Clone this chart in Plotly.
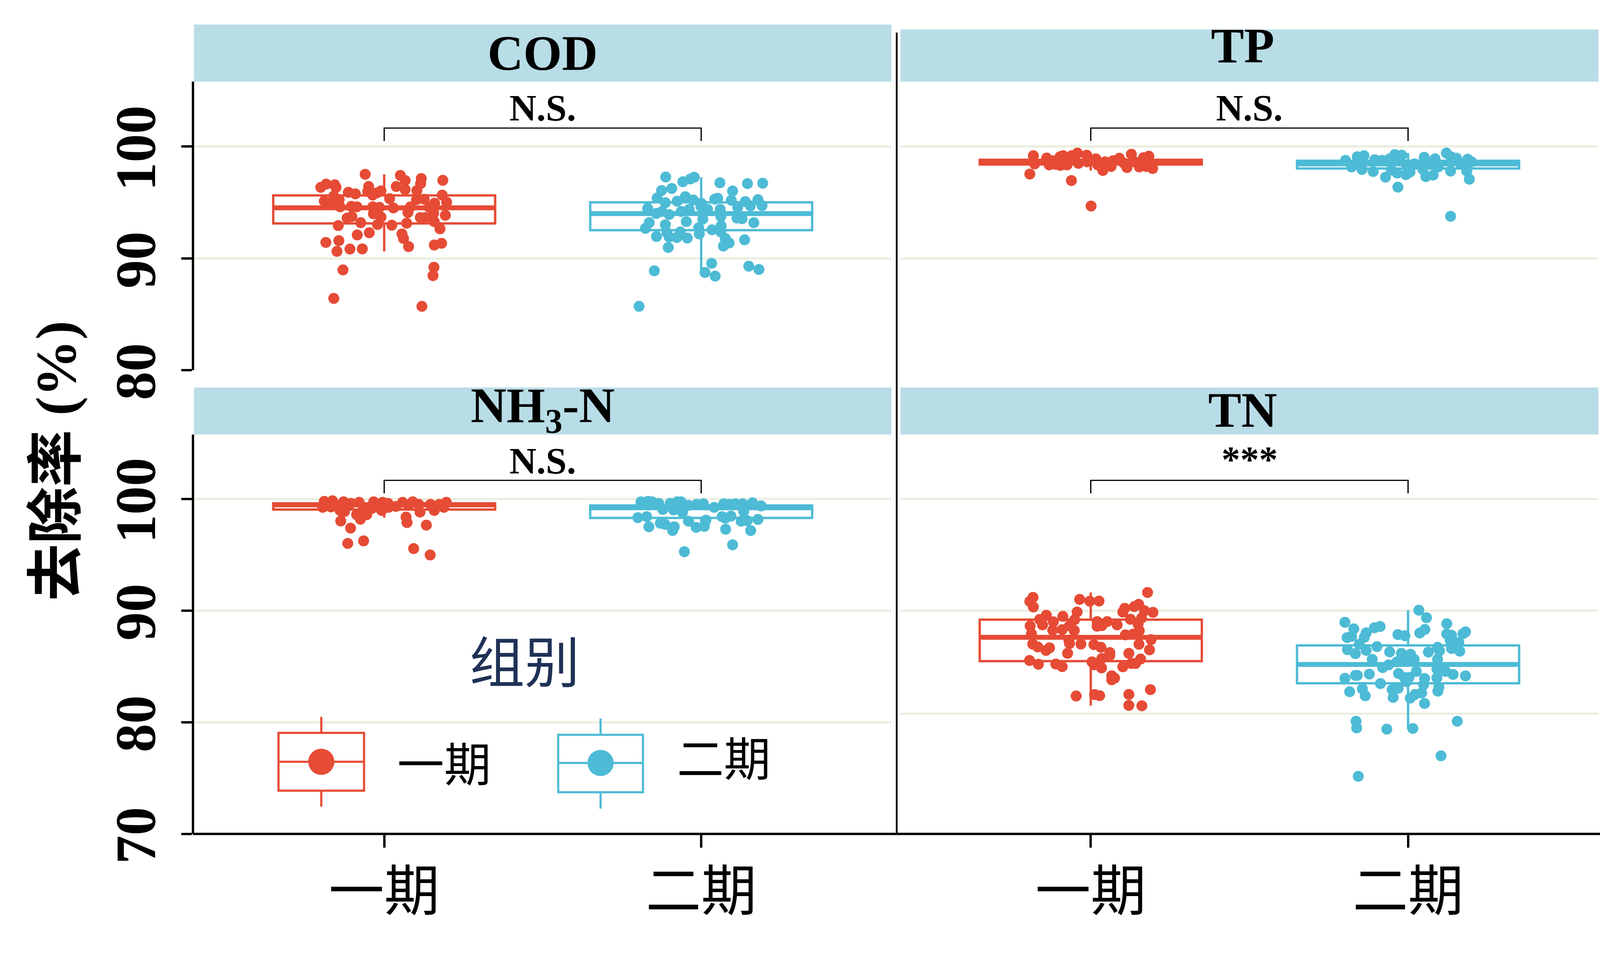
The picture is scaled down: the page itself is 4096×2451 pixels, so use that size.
import plotly.graph_objects as go

W, H = 4096, 2451
RED = "#E64B35"
BLUE = "#4DBBD5"
STRIP = "#B8DDE7"
GRID = "#ECEFE1"
SERIF = "Liberation Serif, Noto Sans CJK SC"
NAVY = "#1F3156"

groups = ["一期", "二期"]
panel_names = ["COD", "TP", "NH<sub>3</sub>-N", "TN"]
sig_labels = ["N.S.", "N.S.", "N.S.", "***"]

# box statistics per panel: [一期, 二期]
cod_q1 = [93.12, 92.52]; cod_med = [94.52, 94.00]; cod_q3 = [95.63, 95.01]; cod_lo = [90.62, 88.88]; cod_hi = [97.51, 97.25]
tp_q1 = [98.40, 98.04]; tp_med = [98.61, 98.45]; tp_q3 = [98.82, 98.73]; tp_lo = [97.86, 97.08]; tp_hi = [99.42, 99.42]
nh_q1 = [99.05, 98.29]; nh_med = [99.47, 99.20]; nh_q3 = [99.60, 99.41]; nh_lo = [98.32, 97.16]; nh_hi = [99.83, 99.78]
tn_q1 = [85.47, 83.49]; tn_med = [87.60, 85.17]; tn_q3 = [89.19, 86.88]; tn_lo = [81.49, 79.38]; tn_hi = [91.62, 90.03]

# observations (removal %) and horizontal jitter offsets
cod1_y = [97.52,97.42,97.14,96.98,96.64,96.35,96.58,96.35,96.43,96.97,
          96.43,96.69,96.16,96.06,95.91,95.77,95.98,95.66,96.03,95.86,
          95.57,95.66,95.13,95.25,95.34,95.25,95.29,94.93,95.02,94.84,
          94.61,94.65,94.61,94.61,94.56,94.51,94.61,94.56,94.10,93.98,
          93.69,93.60,93.74,93.65,93.65,94.01,93.85,92.93,93.19,93.02,
          92.96,93.14,93.28,92.64,92.09,92.29,92.18,91.77,91.42,91.58,
          90.62,90.83,90.84,91.05,91.19,91.34,88.96,89.20,88.45,86.41,85.70]
cod1_dx = [-0.060,0.051,0.117,0.185,-0.183,-0.200,-0.156,-0.152,-0.049,0.066,
           0.038,0.115,0.066,0.103,-0.113,-0.091,-0.052,-0.036,-0.010,-0.023,
           -0.159,0.183,-0.189,-0.142,0.017,0.102,0.126,0.159,0.197,-0.168,
           -0.139,-0.104,-0.086,-0.036,-0.015,0.029,0.083,0.142,0.075,-0.034,
           -0.010,-0.117,-0.102,0.114,0.129,0.156,0.193,-0.145,-0.074,-0.021,
           0.024,0.071,0.158,0.176,-0.085,-0.047,0.056,0.061,-0.184,-0.143,
           -0.149,-0.108,-0.069,0.077,0.158,0.181,-0.130,0.157,0.154,-0.159,0.119]
cod2_y = [97.28,96.85,97.10,97.26,96.76,96.69,96.72,96.07,96.25,96.03,
          95.40,94.97,95.11,95.52,95.22,94.93,95.29,95.38,95.20,95.08,
          95.25,94.47,94.01,94.19,93.92,94.19,94.38,94.65,94.38,94.38,
          94.56,94.70,94.72,93.60,93.55,93.19,93.74,93.51,93.28,93.19,
          92.68,93.00,92.91,92.55,92.73,92.36,92.27,91.95,91.91,91.86,
          91.81,92.18,92.36,91.77,91.37,91.10,91.65,90.97,89.55,88.88,
          88.73,88.40,89.29,89.00,85.70]
cod2_dx = [-0.112,-0.058,-0.034,-0.022,0.059,0.146,0.194,-0.125,-0.093,0.099,
           -0.139,-0.113,-0.076,-0.050,-0.025,0.000,0.043,0.052,0.095,0.139,
           0.179,-0.169,-0.142,-0.124,-0.101,-0.063,-0.038,-0.001,0.020,0.060,
           0.115,0.155,0.192,0.113,0.129,0.166,0.062,0.005,-0.047,-0.164,
           -0.176,-0.113,0.063,0.034,-0.008,-0.066,-0.108,-0.141,-0.101,-0.077,
           -0.044,-0.006,0.062,0.076,0.088,0.070,0.137,-0.104,0.033,-0.148,
           0.012,0.044,0.150,0.182,-0.196]
tp1_y = [99.19,98.45,97.54,98.98,98.36,98.41,99.09,99.19,98.32,98.36,
         99.19,99.42,98.50,99.23,98.64,98.91,98.36,97.86,98.64,98.22,
         98.96,98.13,99.32,98.18,99.00,99.14,98.22,98.04,96.96,94.68,
         98.73,98.73,98.73,98.64,98.55]
tp1_dx = [-0.181,-0.177,-0.192,-0.139,-0.131,-0.110,-0.097,-0.087,-0.096,-0.075,
          -0.060,-0.042,-0.039,-0.013,-0.012,0.016,0.022,0.038,0.045,0.064,
          0.090,0.114,0.128,0.153,0.166,0.183,0.175,0.195,-0.061,0.001,
          -0.120,-0.071,0.070,0.138,0.103]
tp2_y = [98.77,98.18,99.09,99.19,97.95,98.82,97.77,98.77,97.26,98.91,
         99.28,99.23,97.63,98.36,97.49,97.72,99.05,97.95,97.31,98.91,
         97.45,98.18,99.42,99.09,98.96,97.81,98.87,98.64,97.81,97.08,
         96.37,93.76,97.90,98.45,98.45,98.45]
tp2_dx = [-0.197,-0.178,-0.160,-0.139,-0.145,-0.105,-0.110,-0.082,-0.071,-0.058,
          -0.042,-0.020,-0.034,-0.005,-0.007,0.006,0.051,0.047,0.056,0.085,
          0.079,0.095,0.121,0.135,0.153,0.134,0.188,0.200,0.185,0.193,
          -0.032,0.134,-0.053,0.021,0.069,0.166]
nh1_y = [99.78,99.24,99.83,99.28,99.42,99.74,98.96,98.87,99.60,99.69,
         98.59,98.18,98.59,99.24,99.74,99.14,99.69,98.96,99.60,99.24,
         99.33,99.69,99.74,99.42,99.51,98.82,99.51,98.96,99.24,99.69,
         98.37,97.88,98.02,97.38,97.65,96.01,96.24,95.55,94.98,99.33,99.51]
nh1_dx = [-0.189,-0.194,-0.163,-0.168,-0.146,-0.128,-0.139,-0.125,-0.105,-0.079,
          -0.087,-0.075,-0.055,-0.065,-0.033,-0.039,-0.005,-0.008,0.012,0.014,
          0.037,0.058,0.090,0.077,0.109,0.113,0.146,0.158,0.188,0.196,
          0.069,0.072,-0.137,-0.106,0.133,-0.115,-0.065,0.093,0.145,-0.020,0.174]
nh2_y = [99.74,98.32,99.78,99.74,99.60,98.41,97.50,97.82,97.72,99.60,
         99.74,99.74,99.01,98.78,97.17,97.50,99.42,99.51,99.56,98.00,
         97.45,97.54,98.09,95.27,99.56,99.51,99.56,99.56,99.65,99.37,
         98.87,98.41,98.27,98.46,98.00,98.05,98.16,97.28,97.16,95.89,99.24,99.05]
nh2_dx = [-0.190,-0.200,-0.168,-0.155,-0.134,-0.172,-0.165,-0.129,-0.114,-0.098,
          -0.076,-0.064,-0.087,-0.059,-0.090,-0.085,-0.040,-0.014,0.007,-0.040,
          -0.016,0.010,0.015,-0.053,0.071,0.089,0.108,0.131,0.162,0.189,
          0.134,0.066,0.076,0.094,0.126,0.145,0.179,0.077,0.156,0.099,0.041,-0.121]
tn1_y = [91.18,90.82,90.32,91.00,90.84,90.85,91.62,89.87,89.58,89.20,
         88.72,88.99,89.48,88.63,87.93,88.24,88.29,88.65,89.17,88.21,
         90.20,89.86,90.56,90.35,89.99,89.84,89.22,89.32,88.80,89.01,
         88.60,88.65,89.01,88.72,87.82,87.88,88.19,87.39,87.00,86.74,
         86.43,86.66,87.36,87.05,87.00,86.95,86.71,86.98,86.48,86.17,
         86.24,85.99,85.71,86.17,85.53,85.19,85.21,84.98,85.40,85.14,
         84.86,84.96,85.26,85.26,85.66,84.16,83.80,83.95,82.35,82.48,
         82.38,82.49,81.51,81.47,82.92]
tn1_dx = [-0.182,-0.192,-0.181,-0.035,-0.003,0.026,0.179,-0.043,-0.140,-0.161,
          -0.152,-0.118,-0.088,-0.191,-0.187,-0.120,-0.090,-0.067,-0.051,-0.052,
          0.107,0.101,0.151,0.137,0.169,0.196,0.125,0.160,0.149,0.020,
          0.020,0.035,0.052,0.083,0.109,0.133,0.153,0.190,-0.183,-0.167,
          -0.141,-0.130,-0.069,-0.067,-0.031,0.010,0.032,0.152,0.185,-0.073,
          0.060,0.060,0.035,0.120,-0.193,-0.165,-0.110,-0.090,0.004,0.011,
          0.034,0.101,0.128,0.141,0.157,0.066,0.066,0.075,-0.046,0.012,
          0.028,0.120,0.120,0.161,0.188]
tn2_y = [90.03,89.36,88.95,88.36,87.58,87.69,88.01,87.60,88.46,88.57,
         87.85,87.74,88.31,87.99,88.82,87.90,87.79,88.09,87.92,87.31,
         87.14,86.60,86.36,86.98,86.49,86.14,86.44,86.77,85.63,86.30,
         86.17,86.08,85.63,86.28,86.71,86.39,85.63,84.89,85.14,85.41,
         85.63,84.76,84.55,84.28,84.15,83.93,84.19,84.19,84.31,84.36,
         84.55,84.01,84.01,83.63,83.92,83.98,83.36,83.46,82.73,82.98,
         82.36,82.92,83.05,82.22,82.16,82.49,82.63,81.68,83.14,82.78,
         80.09,79.49,79.38,79.44,80.09,76.99,75.16]
tn2_dx = [0.034,0.058,-0.199,-0.171,-0.192,-0.178,-0.132,-0.138,-0.106,-0.088,
          -0.032,-0.010,0.053,0.037,0.122,0.122,0.137,0.181,0.173,0.133,
          0.160,0.137,0.163,-0.154,-0.191,-0.166,-0.132,-0.098,-0.113,-0.058,
          -0.021,0.008,0.019,0.064,0.093,0.099,0.093,-0.080,-0.061,-0.035,
          -0.012,0.091,0.118,0.142,0.181,-0.199,-0.166,-0.160,-0.122,-0.030,
          0.026,-0.012,0.003,-0.004,0.052,0.091,0.049,-0.087,-0.184,-0.144,
          -0.135,-0.050,-0.031,-0.047,0.007,0.022,0.043,0.052,0.097,0.094,
          -0.164,-0.162,-0.067,0.015,0.155,0.104,-0.157]

# significance bracket (value units)
bracket_top = 101.66
bracket_foot = 100.50

panels = [
    dict(ax=("x", "y"), stats=(cod_q1, cod_med, cod_q3, cod_lo, cod_hi),
         pts=[(cod1_y, cod1_dx), (cod2_y, cod2_dx)]),
    dict(ax=("x2", "y2"), stats=(tp_q1, tp_med, tp_q3, tp_lo, tp_hi),
         pts=[(tp1_y, tp1_dx), (tp2_y, tp2_dx)]),
    dict(ax=("x3", "y3"), stats=(nh_q1, nh_med, nh_q3, nh_lo, nh_hi),
         pts=[(nh1_y, nh1_dx), (nh2_y, nh2_dx)]),
    dict(ax=("x4", "y4"), stats=(tn_q1, tn_med, tn_q3, tn_lo, tn_hi),
         pts=[(tn1_y, tn1_dx), (tn2_y, tn2_dx)]),
]
colors = [RED, BLUE]
positions = [1, 2]
BOXW = 0.7
MS = 28

fig = go.Figure()
for p in panels:
    xa, ya = p["ax"]
    q1, med, q3, lo, hi = p["stats"]
    for gi in range(2):
        fig.add_trace(go.Box(
            x=[positions[gi]], q1=[q1[gi]], median=[med[gi]], q3=[q3[gi]],
            lowerfence=[lo[gi]], upperfence=[hi[gi]], width=BOXW, whiskerwidth=0,
            boxpoints=False, line=dict(color=colors[gi], width=6),
            fillcolor="rgba(255,255,255,0)", xaxis=xa, yaxis=ya, hoverinfo="skip"))
        fig.add_trace(go.Scatter(
            x=[positions[gi] - BOXW / 2, positions[gi] + BOXW / 2], y=[med[gi], med[gi]],
            mode="lines", line=dict(color=colors[gi], width=12.5), xaxis=xa, yaxis=ya,
            hoverinfo="skip"))
    for gi in range(2):
        ys, dxs = p["pts"][gi]
        fig.add_trace(go.Scatter(
            x=[positions[gi] + d for d in dxs], y=ys, mode="markers",
            marker=dict(color=colors[gi], size=MS, line=dict(width=0)),
            xaxis=xa, yaxis=ya, name=groups[gi]))
    fig.add_trace(go.Scatter(
        x=[positions[0], positions[0], positions[1], positions[1]],
        y=[bracket_foot, bracket_top, bracket_top, bracket_foot],
        mode="lines", line=dict(color="black", width=3.2), xaxis=xa, yaxis=ya,
        hoverinfo="skip"))

def px(v):
    return v / W

def py(v):
    return 1 - v / H

XL = [px(496.6), px(2282)]
XR = [px(2305), px(4092)]
YT = [py(947.6), py(209)]
YB = [py(2135.7), py(1112.7)]

xcommon = dict(range=[0.4, 2.6], showgrid=False, zeroline=False, showline=False,
               automargin=False)
ytickcommon = dict(ticks="outside", ticklen=27, tickwidth=6, tickcolor="black", tickangle=-90,
                   tickfont=dict(family=SERIF, size=146, color="black", weight="bold"),
                   ticklabelstandoff=8, ticklabelshift=26, automargin=False,
                   showgrid=True, gridcolor=GRID, gridwidth=5.7, zeroline=False,
                   showline=True, linecolor="black", linewidth=6)
fig.update_layout(
    template="none",
    width=W, height=H, margin=dict(l=0, r=0, t=0, b=0, pad=0, autoexpand=False),
    paper_bgcolor="white", plot_bgcolor="white", showlegend=False,
    xaxis=dict(domain=XL, anchor="y", showticklabels=False, ticks="", **xcommon),
    xaxis2=dict(domain=XR, anchor="y2", showticklabels=False, ticks="", **xcommon),
    xaxis3=dict(domain=XL, anchor="y3", tickvals=positions, ticktext=groups,
                ticks="outside", ticklen=34, tickwidth=6, tickcolor="black",
                tickfont=dict(family=SERIF, size=142, color="black"),
                ticklabelstandoff=-9, **xcommon),
    xaxis4=dict(domain=XR, anchor="y4", tickvals=positions, ticktext=groups,
                ticks="outside", ticklen=34, tickwidth=6, tickcolor="black",
                tickfont=dict(family=SERIF, size=142, color="black"),
                ticklabelstandoff=-9, **xcommon),
    yaxis=dict(domain=YT, anchor="x", range=[80, 105.82], tickvals=[80, 90, 100],
               **ytickcommon),
    yaxis2=dict(domain=YT, anchor="x2", range=[80, 105.82], tickvals=[80, 90, 100],
                showticklabels=False, ticks="", showgrid=True, gridcolor=GRID,
                gridwidth=5.7, zeroline=False, showline=False, automargin=False),
    yaxis3=dict(domain=YB, anchor="x3", range=[70, 105.77], tickvals=[70, 80, 90, 100],
                **ytickcommon),
    yaxis4=dict(domain=YB, anchor="x4", range=[70, 105.77], tickvals=[80.77, 90, 100],
                showticklabels=False, ticks="", showgrid=True, gridcolor=GRID,
                gridwidth=5.7, zeroline=False, showline=False, automargin=False),
)

shapes = []
# strips
strip_boxes = [(496.6, 2282, 62.7, 209), (2305, 4092, 75.4, 209),
               (496.6, 2282, 992.5, 1112.7), (2305, 4092, 992.5, 1112.7)]
for (x0, x1, y0, y1) in strip_boxes:
    shapes.append(dict(type="rect", xref="paper", yref="paper", x0=px(x0), x1=px(x1),
                       y0=py(y1), y1=py(y0), fillcolor=STRIP, line=dict(width=0), layer="below"))
# bottom axis line across both columns and right-column vertical line
shapes.append(dict(type="line", xref="paper", yref="paper", x0=px(494), x1=px(4096),
                   y0=py(2135.7), y1=py(2135.7), line=dict(color="black", width=6)))
shapes.append(dict(type="line", xref="paper", yref="paper", x0=px(2295.6), x1=px(2295.6),
                   y0=py(83.6), y1=py(2138), line=dict(color="black", width=4.5)))

# legend keys
legend_keys = [
    dict(col=RED, x0=713, x1=932, y0=1877, y1=2025, wt=1836, wb=2066, ym=1951),
    dict(col=BLUE, x0=1429, x1=1646, y0=1882, y1=2029, wt=1840, wb=2071, ym=1954),
]
for k in legend_keys:
    xc = (k["x0"] + k["x1"]) / 2
    lw = 5.5
    shapes.append(dict(type="line", xref="paper", yref="paper", x0=px(xc), x1=px(xc),
                       y0=py(k["wt"]), y1=py(k["y0"]), line=dict(color=k["col"], width=lw)))
    shapes.append(dict(type="line", xref="paper", yref="paper", x0=px(xc), x1=px(xc),
                       y0=py(k["y1"]), y1=py(k["wb"]), line=dict(color=k["col"], width=lw)))
    shapes.append(dict(type="rect", xref="paper", yref="paper", x0=px(k["x0"]), x1=px(k["x1"]),
                       y0=py(k["y1"]), y1=py(k["y0"]), line=dict(color=k["col"], width=lw),
                       fillcolor="white"))
    shapes.append(dict(type="line", xref="paper", yref="paper", x0=px(k["x0"]), x1=px(k["x1"]),
                       y0=py(k["ym"]), y1=py(k["ym"]), line=dict(color=k["col"], width=lw)))
    shapes.append(dict(type="circle", xref="paper", yref="paper", xsizemode="pixel",
                       ysizemode="pixel", xanchor=px(xc), yanchor=py(k["ym"]),
                       x0=-33.5, x1=33.5, y0=-33.5, y1=33.5,
                       fillcolor=k["col"], line=dict(width=0)))
fig.update_layout(shapes=shapes)

ann = []
strip_text_pos = [(1389, 136), (3181, 117), (1389, 1047.5), (3181, 1050)]
for name, (x, y) in zip(panel_names, strip_text_pos):
    ann.append(dict(text=name, x=px(x), y=py(y), xref="paper", yref="paper",
                    showarrow=False, xanchor="center", yanchor="middle",
                    font=dict(family=SERIF, size=127, color="black", weight="bold")))
sig_axes = [("x", "y"), ("x2", "y2"), ("x3", "y3"), ("x4", "y4")]
sig_y = [103.45, 103.45, 103.40, 103.55]
for lab, (xa, ya), yy in zip(sig_labels, sig_axes, sig_y):
    ann.append(dict(text=lab, x=1.5, y=yy, xref=xa, yref=ya, showarrow=False,
                    xanchor="center", yanchor="middle",
                    font=dict(family=SERIF, size=96, color="black", weight="bold")))
# y title
ann.append(dict(text="去除率 (%)", x=px(144), y=py(1180), xref="paper", yref="paper",
                showarrow=False, textangle=-90, xanchor="center", yanchor="middle",
                font=dict(family=SERIF, size=146, color="black", weight="bold")))
# legend title and labels
ann.append(dict(text="组别", x=px(1343), y=py(1700), xref="paper", yref="paper",
                showarrow=False, xanchor="center", yanchor="middle",
                font=dict(family=SERIF, size=141, color=NAVY)))
for lab, (x, y) in zip(groups, [(1137, 1961), (1853, 1947)]):
    ann.append(dict(text=lab, x=px(x), y=py(y), xref="paper", yref="paper",
                    showarrow=False, xanchor="center", yanchor="middle",
                    font=dict(family=SERIF, size=120, color="black")))
fig.update_layout(annotations=ann)

fig.write_html("out.html", config={"displayModeBar": False},
               post_script="document.body.style.margin='0px';")
